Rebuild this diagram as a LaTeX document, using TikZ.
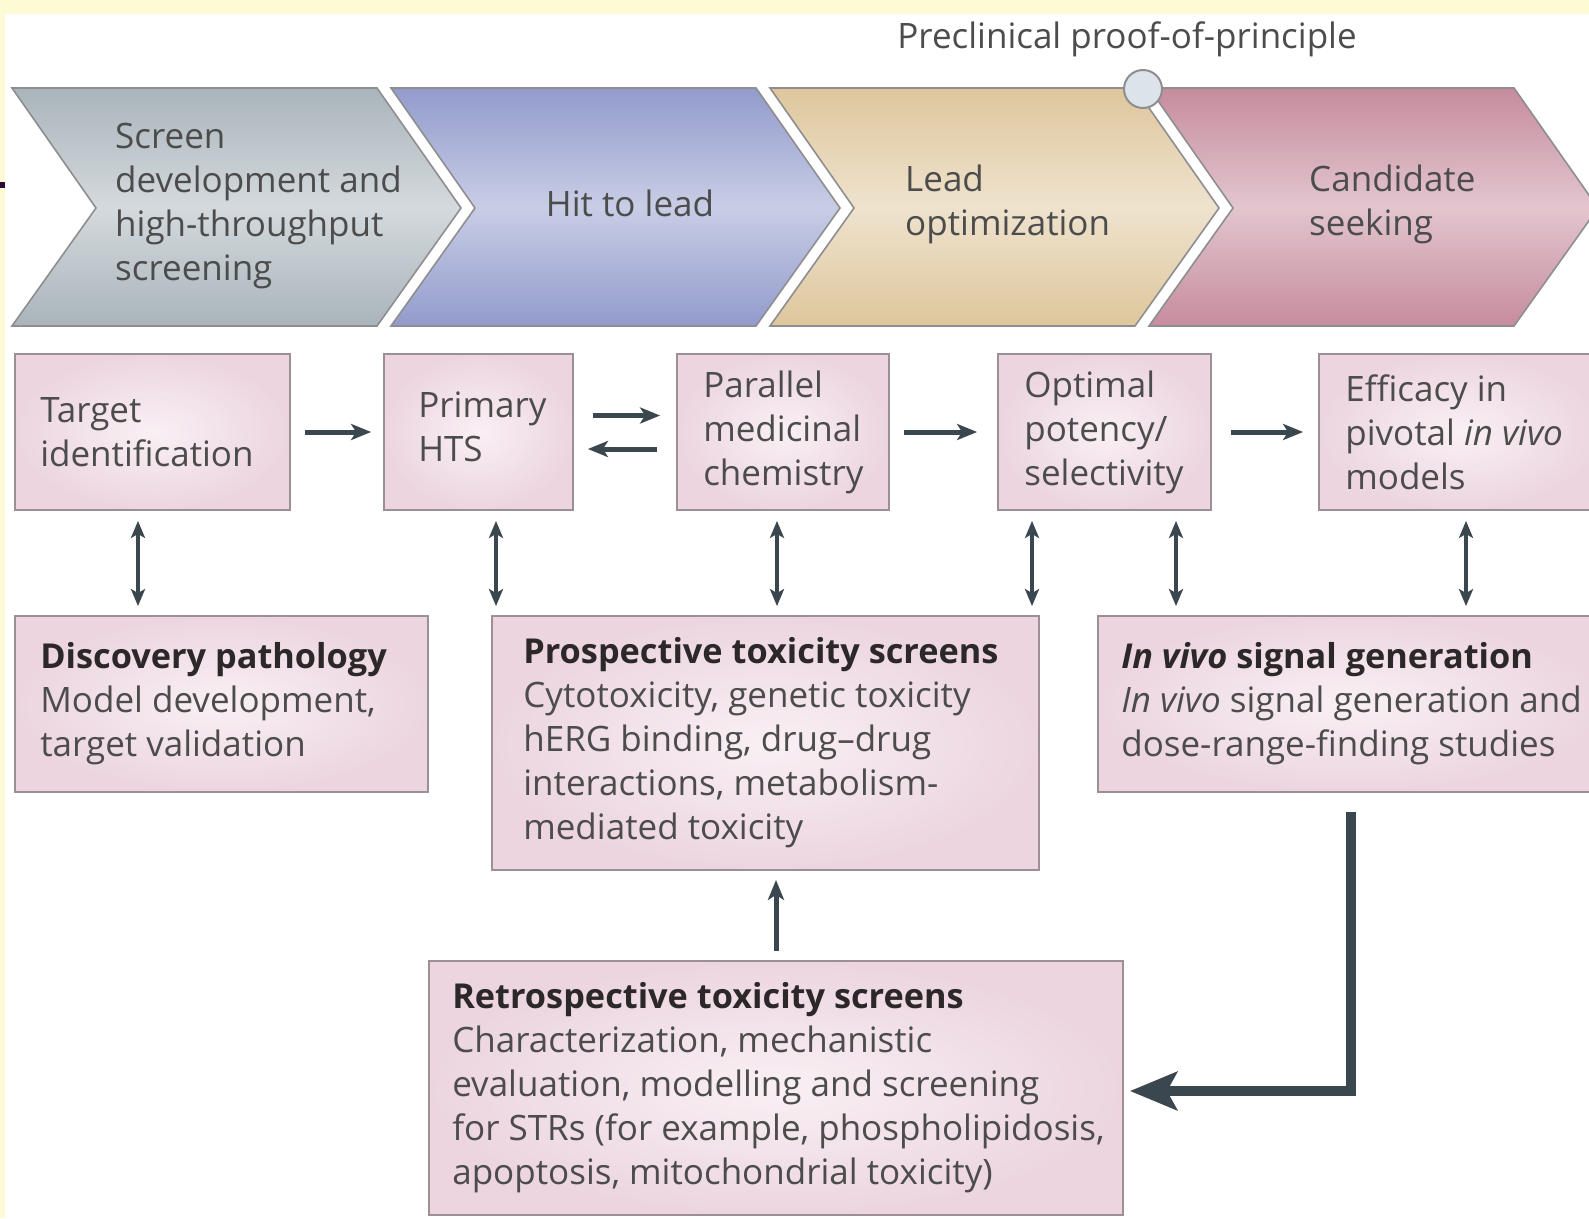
\documentclass[tikz,border=0pt]{standalone}
\usepackage{fontspec}
\setmainfont{Open Sans}
\usetikzlibrary{arrows.meta}
\definecolor{bandyellow}{HTML}{FDFBD4}
\definecolor{markpurple}{HTML}{2E0A33}
\definecolor{chgray}{HTML}{A9B4BB}
\definecolor{chblue}{HTML}{929BCC}
\definecolor{chtan}{HTML}{DEC69C}
\definecolor{chrose}{HTML}{C68C9E}
\definecolor{chline}{HTML}{8E8E90}
\definecolor{boxin}{HTML}{F9F0F4}
\definecolor{boxout}{HTML}{ECD5DF}
\definecolor{boxline}{HTML}{9C9096}
\definecolor{arrowgray}{HTML}{3B474E}
\definecolor{txtgray}{HTML}{4C4C4C}
\definecolor{headgray}{HTML}{2C2829}
\definecolor{knob}{HTML}{DCE3EA}
\newcommand{\headfont}{\fontsize{34.3}{44}\selectfont\bfseries}
\begin{document}
\begin{tikzpicture}[x=1pt, y=-1pt,
    box/.style={draw=boxline, line width=1.8pt, inner color=boxin, outer color=boxout, inner sep=0pt},
    lbl/.style={anchor=west, align=left, inner sep=0pt, text=txtgray, font=\fontsize{35}{44}\selectfont},
    flow/.style={-{Stealth[length=20pt,width=16pt,inset=5pt]}, line width=5pt, draw=arrowgray, shorten <=14pt, shorten >=12pt},
    dbl/.style={{Stealth[length=17pt,width=14pt,inset=4pt]}-{Stealth[length=17pt,width=14pt,inset=4pt]}, line width=4pt, draw=arrowgray, shorten <=10pt, shorten >=9pt},
    bigflow/.style={-{Stealth[length=47pt,width=38pt,inset=10pt]}, line width=10pt, draw=arrowgray}]
        \useasboundingbox (0,0) rectangle (1589,1218);
        \clip (0,0) rectangle (1589,1218);
        \fill[white] (0,0) rectangle (1589,1218);
        \fill[bandyellow] (0,0) rectangle (1589,14);
        \fill[bandyellow] (0,0) rectangle (5,1218);
        \fill[markpurple] (0,182) rectangle (5,188);
        \foreach \x/\c in {12/chgray,391/chblue,770/chtan,1149/chrose}{
            \shade[top color=\c, bottom color=\c, middle color=\c!50!white] (\x,88) -- ++(365,0) -- ++(84,120) -- ++(-84,118) -- ++(-365,0) -- ++(84,-118) -- cycle;
            \draw[chline, line width=1.6pt] (\x,88) -- ++(365,0) -- ++(84,120) -- ++(-84,118) -- ++(-365,0) -- ++(84,-118) -- cycle;
        }
        \draw[chline, line width=2pt, fill=knob] (1143,89) circle (19pt);
        \node[lbl, anchor=center] (ppp) at (1127,39) {Preclinical proof-of-principle};
        \node[lbl] (scr) at (115,206) {Screen\\development and\\high-throughput\\screening};
        \node[lbl, anchor=center] (h2l) at (630,203) {Hit to lead};
        \node[lbl] (lop) at (905,204) {Lead\\optimization};
        \node[lbl] (cse) at (1309,204) {Candidate\\seeking};
        \node[box, minimum width=275pt, minimum height=156pt] (tid) at (152.5,432) {};
        \node[box, minimum width=189pt, minimum height=156pt] (hts) at (478.5,432) {};
        \node[box, minimum width=212pt, minimum height=156pt] (pmc) at (783,432) {};
        \node[box, minimum width=213pt, minimum height=156pt] (ops) at (1104.5,432) {};
        \node[box, minimum width=281pt, minimum height=156pt] (eff) at (1459.5,432) {};
        \node[box, minimum width=413pt, minimum height=176pt] (dis) at (221.5,704) {};
        \node[box, minimum width=547pt, minimum height=254pt] (pro) at (765.5,743) {};
        \node[box, minimum width=502pt, minimum height=176pt] (ivs) at (1349,704) {};
        \node[box, minimum width=694pt, minimum height=254pt] (ret) at (776,1088) {};
        \node[lbl] (tid-t) at ([xshift=26pt]tid.west) {Target\\identification};
        \node[lbl] (hts-t) at ([xshift=35pt, yshift=5pt]hts.west) {Primary\\HTS};
        \node[lbl] (pmc-t) at ([xshift=27pt]pmc.west) {Parallel\\medicinal\\chemistry};
        \node[lbl] (ops-t) at ([xshift=27pt]ops.west) {Optimal\\potency/\\selectivity};
        \node[lbl] (eff-t) at ([xshift=27pt]eff.west) {Efficacy in\\pivotal \textit{in vivo}\\models};
        \node[lbl] (dis-t) at ([xshift=26pt]dis.west) {\textcolor{headgray}{\headfont Discovery pathology}\\Model development,\\target validation};
        \node[lbl] (pro-t) at ([xshift=32pt]pro.west) {\textcolor{headgray}{\headfont Prospective toxicity screens}\\Cytotoxicity, genetic toxicity\\hERG binding, drug--drug\\interactions, metabolism-\\mediated toxicity};
        \node[lbl] (ivs-t) at ([xshift=24pt]ivs.west) {\textcolor{headgray}{\headfont\itshape In vivo \upshape signal generation}\\\textit{In vivo} signal generation and\\dose-range-finding studies};
        \node[lbl] (ret-t) at ([xshift=24pt]ret.west) {\textcolor{headgray}{\headfont Retrospective toxicity screens}\\Characterization, mechanistic\\evaluation, modelling and screening\\for STRs (for example, phospholipidosis,\\apoptosis, mitochondrial toxicity)};
        \draw[flow] (tid.east) -- (hts.west);
        \draw[flow, shorten <=19pt, shorten >=16pt] ([yshift=16.5pt]hts.east) -- ([yshift=16.5pt]pmc.west);
        \draw[flow, shorten <=19pt, shorten >=14pt] ([yshift=-17pt]pmc.west) -- ([yshift=-17pt]hts.east);
        \draw[flow, shorten >=20pt] (pmc.east) -- (ops.west);
        \draw[flow, shorten <=19pt, shorten >=15pt] (ops.east) -- (eff.west);
        \draw[dbl] ([xshift=-14.5pt]tid.south) -- ([xshift=-14.5pt]tid.south |- dis.north);
        \draw[dbl] ([xshift=17.5pt]hts.south) -- ([xshift=17.5pt]hts.south |- pro.north);
        \draw[dbl] ([xshift=-6pt]pmc.south) -- ([xshift=-6pt]pmc.south |- pro.north);
        \draw[dbl] ([xshift=-72.5pt]ops.south) -- ([xshift=-72.5pt]ops.south |- pro.north);
        \draw[dbl] ([xshift=71.5pt]ops.south) -- ([xshift=71.5pt]ops.south |- ivs.north);
        \draw[dbl] ([xshift=6.5pt]eff.south) -- ([xshift=6.5pt]eff.south |- ivs.north);
        \draw[flow, shorten <=9pt, shorten >=9pt] (ret.north) -- (ret.north |- pro.south);
        \draw[bigflow, shorten <=19pt, shorten >=6pt] ([xshift=2pt]ivs.south) |- ([yshift=-3pt]ret.east);
    \end{tikzpicture}
\end{document}
